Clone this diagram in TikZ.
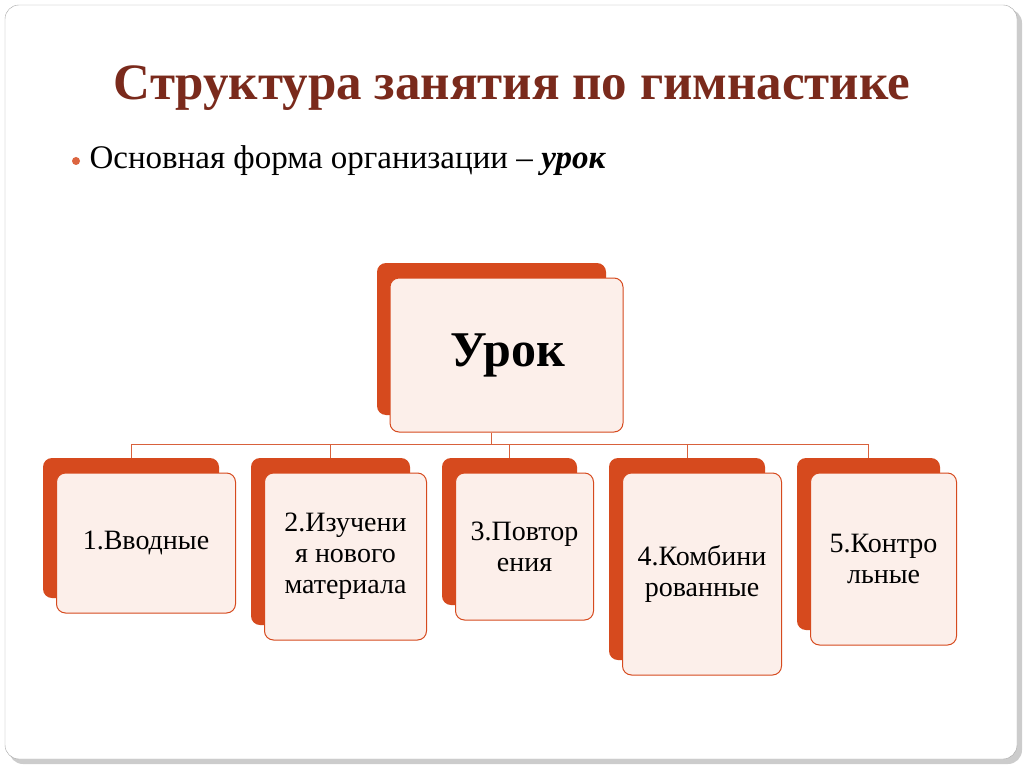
\documentclass[tikz,border=0pt]{standalone}
\usepackage{fontspec}
\setmainfont{Liberation Serif}
\definecolor{titlered}{HTML}{7A2A1C}
\definecolor{orng}{HTML}{D64A1E}
\definecolor{pinkf}{HTML}{FCEFEA}
\definecolor{lineo}{HTML}{D8613C}
\begin{document}
\begin{tikzpicture}[x=1pt,y=-1pt,
  backbox/.style={fill=orng,rounded corners=9pt},
  frontbox/.style={fill=pinkf,draw=orng,line width=1pt,rounded corners=9pt},
  lbl/.style={align=center,font=\fontsize{28}{31}\selectfont},
  conn/.style={draw=lineo,line width=0.8pt}]
\useasboundingbox (0,0) rectangle (1024,767);
\fill[gray!40,rounded corners=14pt] (9,9) rectangle (1022,764);
\draw[gray!70,fill=white,rounded corners=14pt] (5,5) rectangle (1017,759);
\node[font=\bfseries\fontsize{51}{56}\selectfont,text=titlered] (title) at (512,88) {Структура занятия по гимнастике};
\fill[orng!85] (76,161) circle (4pt);
\node[anchor=west,font=\fontsize{33}{38}\selectfont] (sub) at (86,161) {Основная форма организации – \textbf{\textit{урок}}};
% top
\node[backbox,minimum width=229pt,minimum height=152pt] (tb) at (491.5,339) {};
\node[frontbox,minimum width=233pt,minimum height=154pt] (tf) at (506.5,355) {};
\node[font=\bfseries\fontsize{50}{56}\selectfont] (tt) at (508,355) {Урок};
% children
\foreach \n/\x/\y/\w/\h/\t in {
 a/131/528/176/140/{1.Вводные},
 b/330.5/541.5/159/167/{2.Изучени\\я нового\\материала},
 c/509.5/531.5/135/147/{3.Повтор\\ения},
 d/687/559/156/202/{4.Комбини\\рованные},
 e/868.5/544/143/172/{5.Контро\\льные}}{
  \node[backbox,minimum width=\w pt,minimum height=\h pt] (\n b) at (\x,\y) {};
  \node[frontbox,minimum width=\w pt+3pt,minimum height=\h pt] (\n f) at (\x+15,\y+15) {};
  \node[lbl] (\n t) at (\x+15,\y+15) {\t};
}
\coordinate (hub) at (tb.south |- 0,444);
\draw[conn] (tf.south -| tb.south) -- (hub);
\foreach \n in {a,b,c,d,e}{\draw[conn] (hub) -| (\n b.north);}
\end{tikzpicture}
\end{document}
